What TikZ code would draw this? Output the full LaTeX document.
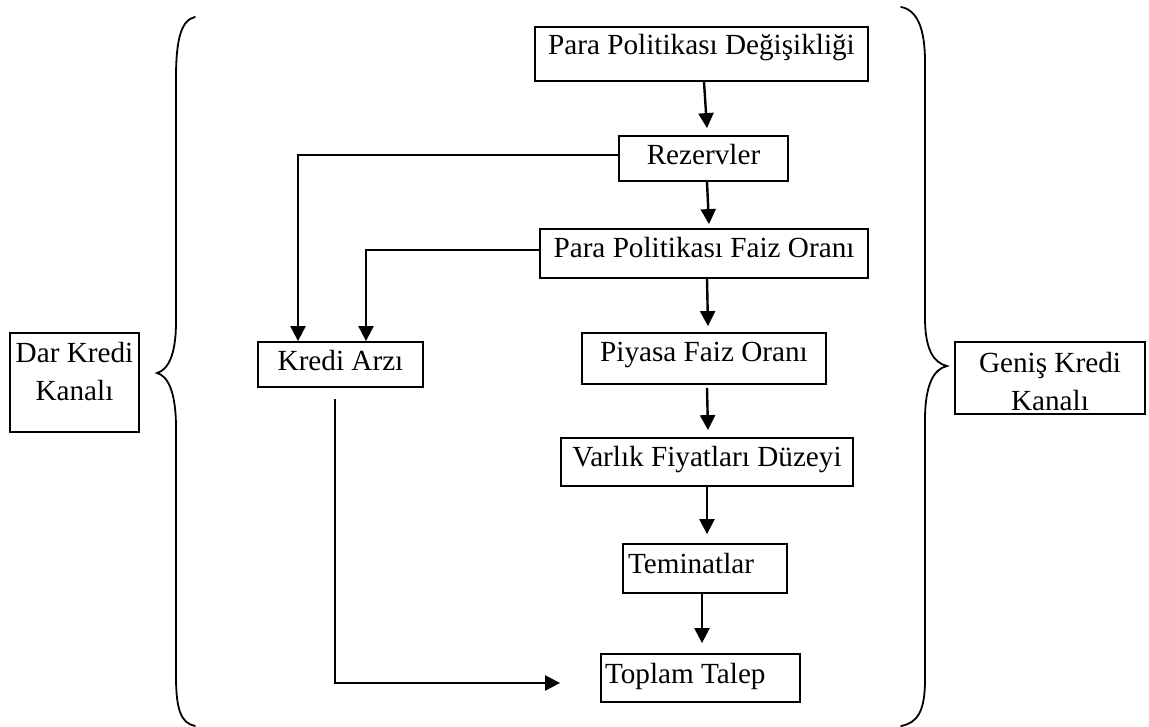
\documentclass[tikz,border=0pt]{standalone}
\usepackage{fontspec}
\setmainfont{Liberation Serif}
\usetikzlibrary{arrows.meta}
\begin{document}
\begin{tikzpicture}[x=1pt,y=-1pt,
  box/.style={draw=black,line width=1.8pt,inner sep=0pt,font=\fontsize{29.2}{38.5}\selectfont,text height=19.5pt,text depth=10.5pt},
  frame/.style={draw=black,line width=1.8pt,inner sep=0pt},
  txt/.style={inner sep=0pt,align=center,font=\fontsize{29.2}{38.5}\selectfont},
  arr/.style={line width=2.4pt,-{Triangle[length=15pt,width=15pt]}},
  elb/.style={line width=2pt,-{Triangle[length=15pt,width=15pt]}},
  brace/.style={line width=1.8pt,line cap=round}]
\useasboundingbox (0,0) rectangle (1149,727);

% main chain
\node[box,minimum width=333pt,minimum height=54pt,text depth=17.5pt] (ppd) at (701.5,54) {Para Politikası Değişikliği};
\node[box,minimum width=169pt,minimum height=45pt,text depth=6.5pt] (rez) at (703.5,158.5) {Rezervler};
\node[box,minimum width=328pt,minimum height=49pt] (faiz) at (704,253.5) {Para Politikası Faiz Oranı};
\node[box,minimum width=244pt,minimum height=51pt,text depth=12.5pt] (piy) at (704,358.5) {Piyasa Faiz Oranı};
\node[box,minimum width=292pt,minimum height=48pt,text depth=11.5pt] (var) at (707,462) {Varlık Fiyatları Düzeyi};
\node[box,minimum width=164pt,minimum height=49pt,inner xsep=5pt] (tem) at (705,568.5) {\makebox[154pt][l]{Teminatlar}};
\node[box,minimum width=199pt,minimum height=48pt,inner xsep=4pt,text depth=9.5pt] (top) at (700.5,678) {\makebox[191pt][l]{Toplam Talep}};
\node[box,minimum width=165pt,minimum height=45pt,text depth=7.5pt] (kredi) at (340.5,364.5) {Kredi Arzı};

% side boxes
\node[frame,minimum width=129pt,minimum height=99pt] (dar) at (74.5,382.5) {};
\node[txt,anchor=north] (dartxt) at (74.5,342) {Dar Kredi\\Kanalı};
\node[frame,minimum width=190pt,minimum height=72pt] (gen) at (1050,378) {};
\node[txt,anchor=north] (gentxt) at (1050,352) {Geniş Kredi\\Kanalı};

% vertical arrows
\draw[arr] ([xshift=2.5pt]ppd.south) -- ([xshift=3.5pt,yshift=7pt]rez.north);
\draw[arr] ([xshift=3.5pt]rez.south) -- ([xshift=5pt,yshift=4pt]faiz.north);
\draw[arr] ([xshift=3pt]faiz.south) -- ([xshift=4pt,yshift=6pt]piy.north);
\draw[arr] ([xshift=3pt,yshift=-3pt]piy.south) -- ([xshift=1pt,yshift=7pt]var.north);
\draw[arr] (var.south) -- ([xshift=2pt,yshift=9pt]tem.north);
\draw[arr] ([xshift=-3pt]tem.south) -- ([xshift=1.5pt,yshift=10pt]top.north);

% elbow connectors
\draw[elb] ([yshift=3.5pt]rez.west) -| ([xshift=-42.5pt]kredi.north);
\draw[elb] ([yshift=3.5pt]faiz.west) -| ([xshift=25.5pt]kredi.north);
\draw[elb] ([xshift=-5.5pt,yshift=-11pt]kredi.south) |- ([xshift=-40pt,yshift=-5pt]top.west);

% braces
\draw[brace] (195,17) .. controls (181,20) and (176,40) .. (176,78)
  -- (176,322) .. controls (176,355) and (168,370) .. (157,373)
  .. controls (168,376) and (176,392) .. (176,428)
  -- (176,676) .. controls (176,710) and (181,723) .. (195,726);
\draw[brace] (901,7) .. controls (917,10) and (925,28) .. (925,62)
  -- (925,318) .. controls (925,350) and (934,363) .. (947,366)
  .. controls (934,369) and (925,384) .. (925,420)
  -- (925,680) .. controls (925,712) and (917,723) .. (901,726);
\end{tikzpicture}
\end{document}
